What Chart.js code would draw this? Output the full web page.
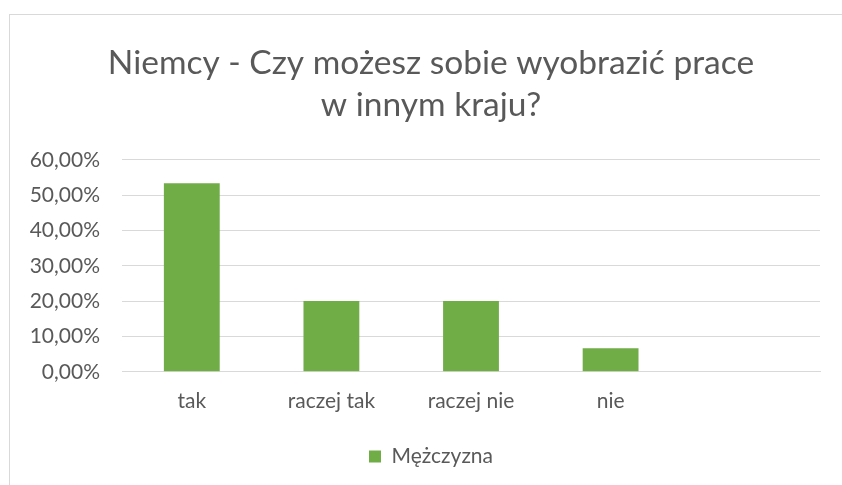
<!DOCTYPE html>
<html>
<head>
<meta charset="utf-8">
<script src="https://cdn.jsdelivr.net/npm/chart.js@4"></script>
<style>
  body { margin: 0; background: #fff; }
  #box {
    position: absolute; left: 9px; top: 14px;
    width: 842px; height: 480px;
    border: 1px solid #d9d9d9; background: #fff;
  }
</style>
</head>
<body>
<div id="box"><canvas id="chart" width="842" height="480"></canvas></div>
<script>
const titleLines = ['Niemcy - Czy możesz sobie wyobrazić prace', 'w innym kraju?'];
const categories = ['tak', 'raczej tak', 'raczej nie', 'nie', ''];
const seriesName = 'Mężczyzna';
const seriesValues = [0.5333, 0.2, 0.2, 0.0667, null];

const grey = '#595959';
const fontFam = 'Lato, "Open Sans", sans-serif';

function pct(v) {
  return (v * 100).toFixed(2).replace('.', ',') + '%';
}

new Chart(document.getElementById('chart'), {
  type: 'bar',
  data: {
    labels: categories,
    datasets: [{
      label: seriesName,
      data: seriesValues,
      backgroundColor: '#70ad47',
      borderWidth: 0,
      categoryPercentage: 1,
      barPercentage: 0.4
    }]
  },
  options: {
    responsive: false,
    animation: false,
    layout: { padding: { left: 0, right: 0, top: 27, bottom: 18 } },
    plugins: {
      title: {
        display: true,
        text: titleLines,
        color: grey,
        font: { family: fontFam, size: 33.5, weight: 'normal', lineHeight: 1.25 },
        padding: { top: 0, bottom: 34 }
      },
      legend: {
        position: 'bottom',
        labels: {
          color: grey,
          font: { family: fontFam, size: 21 },
          boxWidth: 12, boxHeight: 12, padding: 15
        }
      },
      tooltip: { enabled: false }
    },
    scales: {
      x: {
        grid: { display: false, drawTicks: false },
        border: { color: '#d9d9d9' },
        ticks: { color: grey, font: { family: fontFam, size: 21 }, padding: 17 }
      },
      y: {
        min: 0, max: 0.6,
        afterFit: function(s) { s.width = 112; },
        grid: { color: '#d9d9d9', drawTicks: false },
        border: { display: false },
        ticks: {
          stepSize: 0.1,
          color: grey,
          font: { family: fontFam, size: 21 },
          padding: 22,
          callback: function(v) { return pct(v); }
        }
      },
      // empty right axis, only keeps the gap at the right of the plot
      yRight: {
        position: 'right',
        afterFit: function(s) { s.width = 32; },
        grid: { display: false, drawTicks: false },
        border: { display: false },
        ticks: { display: false }
      }
    }
  }
});
</script>
</body>
</html>
